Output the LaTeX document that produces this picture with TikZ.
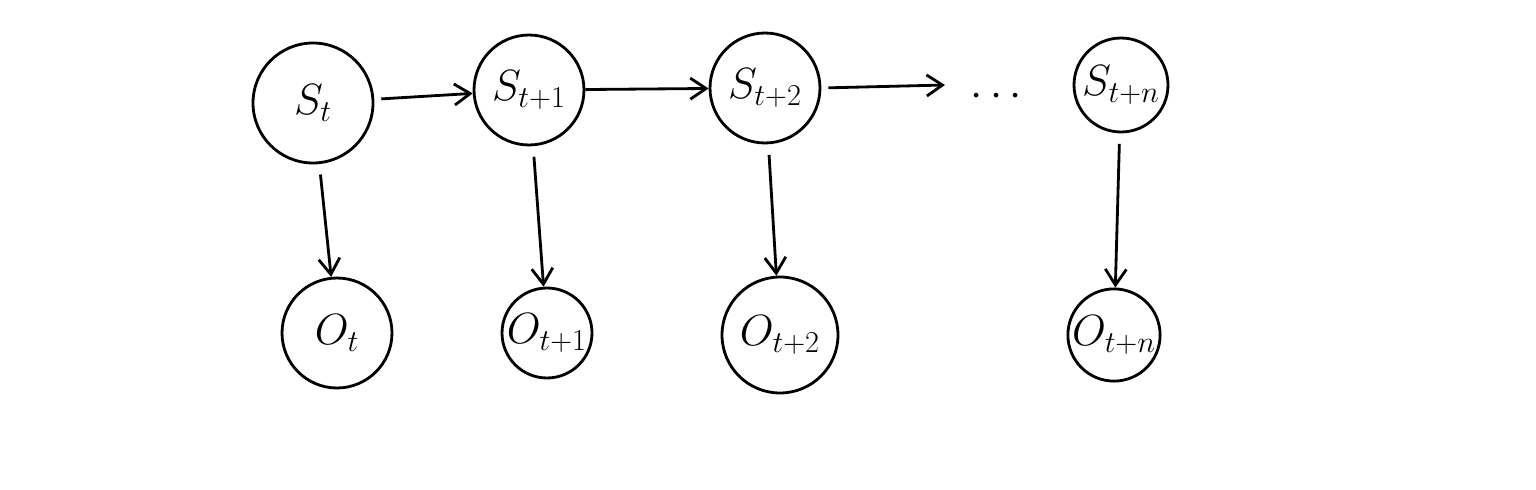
\documentclass[tikz,border=0pt]{standalone}
\usepackage{amsmath}
\usepackage{tikz}
\usetikzlibrary{arrows.meta, positioning, calc}

\begin{document}
\begin{tikzpicture}[x=0.02cm, y=-0.02cm,
    every node/.style={font=\fontsize{26}{28}\selectfont},
    state/.style={circle, draw, line width=1.6pt, inner sep=0pt},
    link/.style={-{Straight Barb[length=9pt, width=12pt]}, line width=1.6pt}]
    \useasboundingbox (0,0) rectangle (1536,490);

    % --- Hidden states ---
    \node[state, minimum size=2.4cm] (st) at (313,103) {$S_t$};
    \node[state, minimum size=2.2cm] (st1) at (529,90) {$S_{t+1}$};
    \node[state, minimum size=2.2cm] (st2) at (765,88) {$S_{t+2}$};
    \node (dots) at (1000,97) {$\cdots$};
    \node[state, minimum size=1.88cm] (stn) at (1121,85) {$S_{t+n}$};

    % --- Observations ---
    \node[state, minimum size=2.2cm] (ot) at (337,333) {$O_t$};
    \node[state, minimum size=1.8cm] (ot1) at (547,333) {$O_{t+1}$};
    \node[state, minimum size=2.32cm] (ot2) at (780,335) {$O_{t+2}$};
    \node[state, minimum size=1.72cm] (otn) at (1114,335) {$O_{t+n}$};

    % --- Transitions ---
    \coordinate (cut) at (945,85);
    \draw[link, shorten <=4pt] (st) -- (st1);
    \draw[link] (st1) -- (st2);
    \draw[link, shorten <=4pt] (st2.east) -- (cut);

    % --- Emissions ---
    \foreach \s/\o in {st/ot, st1/ot1, st2/ot2, stn/otn} {
        \draw[link, shorten <=6pt] (\s) -- (\o);
    }
\end{tikzpicture}
\end{document}
